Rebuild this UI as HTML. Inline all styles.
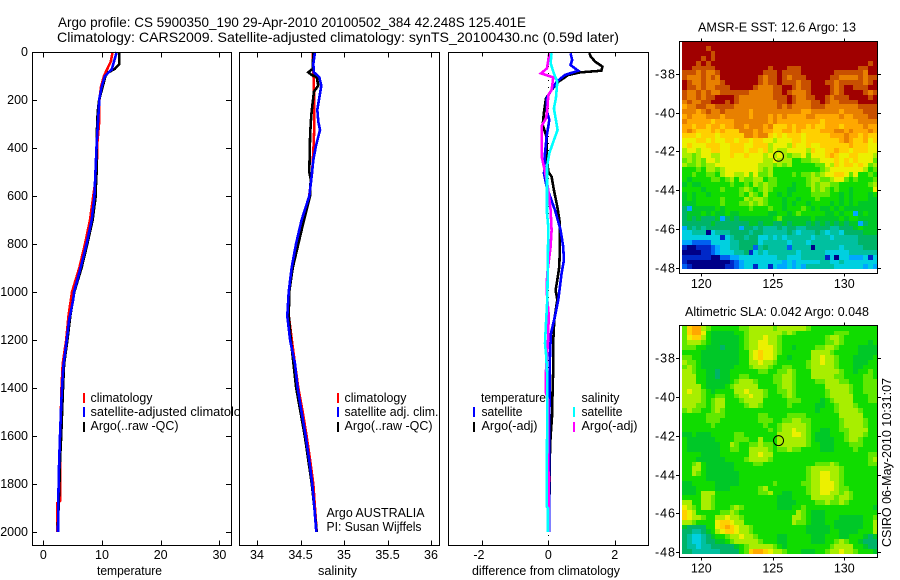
<!DOCTYPE html>
<html lang="en">
<head>
<meta charset="utf-8">
<title>Argo profile 5900350_190</title>
<style>
html,body{margin:0;padding:0;background:#fff;width:900px;height:580px;overflow:hidden}
svg{display:block}
text{font-family:"Liberation Sans",sans-serif;font-size:12.5px;fill:#000}
.title{font-size:14px}
</style>
</head>
<body>
<svg id="chart" xmlns="http://www.w3.org/2000/svg" width="900" height="580" viewBox="0 0 900 580">
<defs>
<clipPath id="temp-clip"><rect x="0" y="0" width="240" height="580"/></clipPath>
</defs>
<rect width="900" height="580" fill="#fff"/>
<g id="maps"></g>
<g id="marks"></g>
<g id="axes"></g>

<text class="title" x="58" y="27" textLength="468" lengthAdjust="spacingAndGlyphs">Argo profile: CS 5900350_190 29-Apr-2010 20100502_384 42.248S 125.401E</text>
<text class="title" x="57" y="42" textLength="562" lengthAdjust="spacingAndGlyphs">Climatology: CARS2009. Satellite-adjusted climatology: synTS_20100430.nc (0.59d later)</text>

<text x="97" y="575" textLength="65" lengthAdjust="spacingAndGlyphs">temperature</text>
<text x="318" y="575" textLength="39" lengthAdjust="spacingAndGlyphs">salinity</text>
<text x="472" y="575" textLength="148" lengthAdjust="spacingAndGlyphs">difference from climatology</text>

<g>
<rect x="83" y="393" width="2" height="10" fill="#f00"/>
<rect x="83" y="407" width="2" height="10" fill="#00f"/>
<rect x="83" y="422" width="2" height="10" fill="#000"/>
<text x="90.5" y="402" textLength="62" lengthAdjust="spacingAndGlyphs">climatology</text>
<g clip-path="url(#temp-clip)"><text x="90.5" y="416" textLength="164" lengthAdjust="spacingAndGlyphs">satellite-adjusted climatology</text></g>
<text x="90.5" y="430" textLength="88" lengthAdjust="spacingAndGlyphs">Argo(..raw -QC)</text>
</g>

<g>
<rect x="337" y="393" width="2" height="10" fill="#f00"/>
<rect x="337" y="407" width="2" height="10" fill="#00f"/>
<rect x="337" y="422" width="2" height="10" fill="#000"/>
<text x="344.5" y="402" textLength="62" lengthAdjust="spacingAndGlyphs">climatology</text>
<text x="344.5" y="416" textLength="94" lengthAdjust="spacingAndGlyphs">satellite adj. clim.</text>
<text x="344.5" y="430" textLength="88" lengthAdjust="spacingAndGlyphs">Argo(..raw -QC)</text>
<text x="326.5" y="517" textLength="98" lengthAdjust="spacingAndGlyphs">Argo AUSTRALIA</text>
<text x="326.5" y="531" textLength="95" lengthAdjust="spacingAndGlyphs">PI: Susan Wijffels</text>
</g>

<g>
<rect x="473" y="407" width="2" height="10" fill="#00f"/>
<rect x="473" y="422" width="2" height="10" fill="#000"/>
<rect x="573" y="407" width="2" height="10" fill="#0ff"/>
<rect x="573" y="422" width="2" height="10" fill="#f0f"/>
<text x="481" y="402" textLength="65" lengthAdjust="spacingAndGlyphs">temperature</text>
<text x="481.5" y="416" textLength="41" lengthAdjust="spacingAndGlyphs">satellite</text>
<text x="481.5" y="430" textLength="56" lengthAdjust="spacingAndGlyphs">Argo(-adj)</text>
<text x="581.5" y="402" textLength="38" lengthAdjust="spacingAndGlyphs">salinity</text>
<text x="581.5" y="416" textLength="41" lengthAdjust="spacingAndGlyphs">satellite</text>
<text x="581.5" y="430" textLength="56" lengthAdjust="spacingAndGlyphs">Argo(-adj)</text>
</g>

<text x="698" y="31.5" textLength="158" lengthAdjust="spacingAndGlyphs">AMSR-E SST: 12.6 Argo: 13</text>
<text x="685" y="316" textLength="184" lengthAdjust="spacingAndGlyphs">Altimetric SLA: 0.042 Argo: 0.048</text>
<text transform="translate(891,547) rotate(-90)" x="0" y="0" textLength="169" lengthAdjust="spacingAndGlyphs">CSIRO 06-May-2010 10:31:07</text>
</svg>

<script>
// ---- profile data: depth (m) and values ----
const depthTicks = [0,200,400,600,800,1000,1200,1400,1600,1800,2000];
const tempTicks = [0,10,20,30];
const salinityTicks = [34,34.5,35,35.5,36];
const salinityTickLabels = ['34','34.5','35','35.5','36'];
const diffTicks = [-2,0,2];
const lonTicks = [120,125,130];
const latTicks = [38,40,42,44,46,48];

const climTempDepth = [0,40,70,100,145,200,300,380,500,600,700,800,900,1000,1100,1200,1300,1400,1600,1800,1870,1880,2000];
const climTemp = [11.8,11.5,10.9,10.34,9.83,9.55,9.49,9.2,9.1,8.52,7.96,7.1,6.13,4.89,4.3,3.9,3.3,3.1,2.9,2.85,2.9,2.35,2.4];
const satTempDepth = [0,73,100,145,193,270,380,477,602,700,797,894,1000,1033,1117,1200,1311,1400,1460,1600,1728,1867,2000];
const satTemp = [12.5,11.65,10.5,9.95,9.55,9.37,9.1,8.92,8.7,8.24,7.4,6.4,5.23,5.1,4.4,3.98,3.41,3.19,3.07,2.85,2.67,2.56,2.5];
const argoTempDepth = [0,50,70,85,100,145,200,250,350,500,530,600,700,800,900,1000,1100,1200,1300,1400,1500,1600,1700,1800,2000];
const argoTemp = [12.95,12.95,12.2,11.07,10.6,10.1,9.5,9.26,9.1,9.1,9.0,8.92,8.4,7.5,6.5,5.28,4.6,4.1,3.55,3.35,3.2,3.05,2.85,2.75,2.45];

const climSalDepth = [0,100,200,300,400,500,600,700,800,900,1000,1100,1200,1300,1400,1500,1600,1700,1800,1900,2000];
const climSal = [34.64,34.65,34.66,34.66,34.65,34.635,34.6,34.525,34.455,34.405,34.37,34.365,34.4,34.437,34.475,34.525,34.57,34.61,34.647,34.667,34.686];
const satSalDepth = [0,50,85,105,140,190,240,290,325,390,450,520,600,700,800,900,1000,1100,1200,1300,1400,1500,1600,1700,1800,1900,2000];
const satSal = [34.667,34.647,34.655,34.716,34.739,34.716,34.693,34.705,34.724,34.678,34.647,34.628,34.601,34.513,34.448,34.398,34.364,34.348,34.38,34.437,34.467,34.513,34.56,34.6,34.636,34.66,34.682];
const argoSalDepth = [0,70,85,95,105,140,165,210,250,300,350,500,530,600,700,800,900,1000,1100,1200,1300,1400,1500,1600,1700,1800,1900,2000];
const argoSal = [34.647,34.64,34.59,34.628,34.686,34.705,34.655,34.64,34.628,34.617,34.61,34.601,34.617,34.61,34.54,34.475,34.41,34.37,34.365,34.39,34.42,34.45,34.5,34.55,34.59,34.63,34.66,34.686];

const diffSatTempDepth = [5,33,54,78,96,124,158,193,242,283,353,422,506,561,658,742,811,867,922,1033,1089,1172,1255,1547,1800,2000];
const diffSatTemp = [.67,.72,.67,.9,.5,.25,.1,-.05,-.05,.03,-.05,-.1,-.13,-.05,.2,.37,.45,.47,.4,.3,.22,.08,.05,.03,.02,.02];
const diffArgoTempDepth = [5,19,40,61,78,85,96,124,158,193,249,304,353,422,499,519,575,644,714,811,894,950,992,1033,1116,1200,1311,1408,1519,1602,1658,2000];
const diffArgoTemp = [1.235,1.28,1.41,1.63,1.6,.955,.6,.3,.1,-.07,-.13,-.17,-.05,-.05,0,.1,.17,.27,.35,.35,.33,.27,.22,.27,.18,.15,.15,.13,.11,.07,.05,.02];
const diffSatSalDepth = [5,47,89,124,193,235,276,325,367,422,478,575,672,728,1033,1130,1214,1255,1352,1464,1894,1901,2000];
const diffSatSal = [.1,.07,.17,.27,.23,.17,.22,.28,.17,.03,-.04,-.04,-.04,0,-.03,-.07,-.1,-.07,-.03,-.03,-.05,-.01,-.01];
const diffArgoSalDepth = [5,68,89,106,158,179,242,276,308,436,499,575,658,742,811,922,978,1033,1089,1186,1352,1422,1450,1741,1769,2000];
const diffArgoSal = [.03,-.04,-.22,.15,.1,0,-.03,-.07,-.2,-.2,-.1,0,.07,.1,.07,-.03,-.05,-.03,.01,0,-.08,-.07,0,0,.02,.01];

const floatLon = 125.401;
const floatLat = 42.248;

// ---- heatmap grids: one character per cell = colour-scale level ----
const sstRows = [
'gggggggggg gggggggggg gggggggggg gggggggggg g',
'gggggfgggg gggggggggg gggggggggg gggggggggg g',
'ggggggfggg gggggggggg gggggggggg gggggggggg g',
'ggggfgfggg gggggggggg gggggggggg gggggggggg g',
'gggfgfgggg gggggggggg gggggggggg gggggggggf g',
'ggfffffggg ggggggggfg ggfffggggg gggggggffg g',
'fffefeefgg gggggggfff gffffggggg ggffffffeg g',
'feeefefegg ggggggfeff gfefffgggg gffeeeefef f',
'gfeefeeefg ggggggfeff gfffeffggg ffefffffef g',
'gffefeefff gggggfeeef fggfeffggg gfefggfffg g',
'feefefeeff ffffeeeeef fgfeeefggg gfefggggfe f',
'feefeffggg gfeeeeeeef ffgfeeffgg fefffggggf g',
'efeeffgggf gfeeeeeeee ffgfeeeffg feeffffggg g',
'deeffeefff feeeeeeeee fefeeeefff eeeeeeefff f',
'eeedefeefe eeeedeeeee eeeeeddeee eeedeeeeff f',
'dedddeeede eeeedeeede deddddeedd dddeddeeef f',
'edddddcddd deeeeeeede dddddddddc dddddddeee e',
'ddcddcddcd deedeeedec ccdcddcdcc dddcdddded d',
'dedcccdcdc cceeededdc cddcdccccd ddeededdde d',
'cccbcccbcc ccceedeecb cbcccbcccc cdddeddcdc c',
'bbbccbcbbc cbccbccbba bbbccbcccc cccdedccdb c',
'bcbbbcccbb cccbbcccab bbacbbcbbc cccccdcccb b',
'abbabbccbb cccbccbcab aabbbbacbb ccdccbcccb b',
'aa9abbaabb cbbcbbbaba ba9aab9bbb cdcbbccbbb a',
'9a9a9bbabb bbbbbbbaab aaa8899aab bbcbcbcbbb 9',
'a99a9aabbb bbbbbbaaa9 a9a8888899 bacbccbcb9 a',
'88898aa9ab bbbbbba9a8 8888888889 abbbbbbba8 9',
'88988998ab baab9b99a8 8889899a9a bbccb9b889 8',
'8788889989 a8a99aa899 8888889aa9 9abb989888 9',
'7877888888 98898a9a99 8887889a9a a998888889 a',
'8888788898 889a989a98 8877888a9a 9898878888 b',
'7878878888 8898a98a88 7878888999 9887878887 8',
'7878888898 888a9aa988 8788788898 8887878887 7',
'7778888898 8899a9a988 8787887888 8787878777 7',
'6377777878 8888988898 8788898787 7878777777 7',
'6777878778 7788888877 8878988888 7787883787 7',
'6767666736 7677777778 9777777877 7778788777 7',
'6666667666 6666776776 6767776767 6767677367 7',
'3656566666 6636656555 6566556666 6556667877 7',
'4455504555 6666566555 5565455565 4554666677 7',
'4444444414 5665664454 5455555455 5455555666 6',
'3322224444 5566664555 5545554555 5555555666 6',
'1001112344 5566625655 5525555055 5554555566 6',
'0000112344 4556145455 5555455555 4444455555 5',
'1111110022 3344444444 5544455555 1404433341 4',
'1000000000 1234444444 4343444445 5445444444 4',
'2100000001 1234414414 3343435555 5544444434 3'
];
const slaRows = [
'9cdda98888 8899aaaaa9 aaaaaa9888 8888888888 8',
'9cddb87777 7889aaaaaa a9a9888888 8899988888 8',
'9bcca87777 7789aaabaa 9888888888 9aa9888888 8',
'9aaa987777 7789aabbaa 9888888888 99a9888887 8',
'9998877767 7789aabbba 9887888899 aa98888777 7',
'8888777777 7788abcbba 9888888aaa a988888777 7',
'9988777777 7788abcbba 8878888aab aa98887777 8',
'a998777777 7788aabaa9 8888889aab aa98887778 8',
'9a98777777 78889aaa98 8998889aaa aa98887788 8',
'aa98877677 8888889988 99a9888aaa aaa9887889 8',
'aaa8877677 8899888889 9aa9888aaa aa99888899 8',
'aaa8877777 89aaa98889 9aa9888899 aaa9988899 9',
'aaaa877778 9aaaaa8888 9aa9888888 aaaaa98899 9',
'abaa987888 8aabaaa988 99a9888888 9aaaa98899 9',
'aaaa988998 89aabaa988 89a9888888 9aaaaa8889 9',
'aaaa989aa8 889aaaa888 8899988887 89aaaa8889 9',
'aaa9989aa8 8889aa9888 8898888877 889aaa9888 8',
'9a99889a98 8888888888 8888888878 889aaaa988 8',
'8888899998 8888889988 8899998888 888aaaaa88 8',
'8888899988 8888889998 899aa99888 8889aaaa98 8',
'8888889888 8888888988 9aaaaa9888 8889aaaa98 8',
'8888888888 8888888898 9aabaa9887 78899aaaa8 8',
'7787778888 8998888888 aaabba9877 78889aaa98 8',
'8777777888 899988a888 aaaaaa9877 77889aa988 8',
'8777777788 a98899a998 aaaaaa9887 7788899988 8',
'8777777788 9988aaaa98 99a9988887 7788889888 8',
'8888777788 8888aabaa8 8888888888 8888888889 9',
'8887777778 8889aaaa98 8888888888 8888888889 a',
'889a877777 7888899888 8888888899 9a98888889 9',
'88aa877777 7888888888 8888889aaa aaa9888888 8',
'88a9877777 7788888888 8888889aab baa9888888 8',
'8888877777 7788888888 8888889aab baa9888888 8',
'7788888777 7788888889 8888899aab bba9888888 8',
'7778888777 8888889a88 8888889aab bba9988888 8',
'7778aaa888 88888899a8 8778889aab baa9a98888 8',
'8888aa9888 8888888888 7778888aaa aa9aa98888 8',
'aa88aa9888 8888888888 7777888899 a99a988888 8',
'ba98aa9888 9a98888888 7778898888 8888888888 7',
'cba8888899 a988888888 8888a98777 8888888888 8',
'cbaa988aab aa98888888 888aa98777 8887777788 9',
'aa98888bcc baa8888888 888a998777 8877777788 a',
'7666688bcd cbaa988888 8888887777 7877777788 a',
'6655678abc cbaa988888 8888887777 7887777888 a',
'6544567889 aabaa98888 7788888777 8887788876 7',
'6544566778 9aaaaa9888 7788888777 889a988766 6',
'6554556666 6789aaaaa9 8788888888 89aaaa8876 6',
'6655555566 6689cddcba a988877788 9aabaa9888 7'
];
const levelCodes = '0123456789abcdefg';
const levelColors = ['#000088','#0028c8','#0060f0','#00a8ff','#00d0e0','#00c0a0','#00b468','#00c828','#10dc00','#60e800','#a8ee00','#ecf000','#ffd000','#ffa800','#e88000','#c85000','#a00000'];

// ---- helpers ----
const NS = 'http://www.w3.org/2000/svg';
const marks = document.getElementById('marks');
const axes = document.getElementById('axes');
const maps = document.getElementById('maps');

function make(tag, attrs, parent) {
  const n = document.createElementNS(NS, tag);
  for (const k in attrs) n.setAttribute(k, attrs[k]);
  parent.appendChild(n);
  return n;
}

// axis functions
const yDepth = d => 52 + d * 0.24;
const xTemp = t => 43.3 + t * 5.87;
const xSal = s => 257 + (s - 34) * 87;
const xDiff = v => 548.3 + v * 33.2;
const xLon = lon => 701.3 + (lon - 120) * 14.3;
const ySstLat = lat => 74 + (lat - 38) * 19.37;
const ySlaLat = lat => 358.3 + (lat - 38) * 19.37;

function drawLine(name, xs, ds, xf, color) {
  const pts = xs.map((v, i) => xf(v).toFixed(1) + ',' + yDepth(ds[i]).toFixed(1)).join(' ');
  const line = make('polyline', {points: pts, fill: 'none', stroke: color, 'stroke-width': 2.6, 'shape-rendering': 'crispEdges'}, marks);
  
  
}

function drawFrame(name, x, y, w, h) {
  const r = make('rect', {x: x, y: y, width: w, height: h, fill: 'none', stroke: '#000', 'stroke-width': 1, 'shape-rendering': 'crispEdges'}, axes);
  
  
}

function drawTick(x1, y1, x2, y2) {
  const t = make('line', {x1: x1, y1: y1, x2: x2, y2: y2, stroke: '#000', 'stroke-width': 1, 'shape-rendering': 'crispEdges'}, axes);
  
  
}

function drawLabel(str, x, y, anchor) {
  const t = make('text', {x: x, y: y, 'text-anchor': anchor}, axes);
  t.textContent = str;
  
  
  return t;
}

function drawHeat(name, rows, left, right, top, bottom) {
  const grid = rows.map(r => r.replace(/ /g, ''));
  const cols = 41;
  const cw = (right - left) / cols;
  const ch = (bottom - top) / grid.length;
  grid.forEach((row, j) => {
    for (let i = 0; i < cols; i++) {
      const color = levelColors[Math.max(0, levelCodes.indexOf(row[Math.min(i, row.length - 1)]))];
      const x0 = Math.round(left + i * cw);
      const x1 = Math.round(left + (i + 1) * cw);
      const y0 = Math.round(top + j * ch);
      const y1 = Math.round(top + (j + 1) * ch);
      const c = make('rect', {x: x0, y: y0, width: x1 - x0, height: y1 - y0, fill: color}, maps);
      
      
    }
  });
}

// ---- heatmaps ----
drawHeat('sst-cell', sstRows, 682, 877.3, 41.3, 269.3);
drawHeat('sla-cell', slaRows, 682, 877.3, 325.7, 553.7);

// ---- zero line of difference panel ----
const zero = make('line', {x1: xDiff(0), x2: xDiff(0), y1: yDepth(0), y2: 545, stroke: '#000', 'stroke-width': 1, 'stroke-dasharray': '1 6', 'shape-rendering': 'crispEdges'}, marks);



// ---- profile lines ----
drawLine('temperature-climatology-line', climTemp, climTempDepth, xTemp, '#f00');
drawLine('temperature-argo-line', argoTemp, argoTempDepth, xTemp, '#000');
drawLine('temperature-satellite-line', satTemp, satTempDepth, xTemp, '#00f');

drawLine('salinity-climatology-line', climSal, climSalDepth, xSal, '#f00');
drawLine('salinity-argo-line', argoSal, argoSalDepth, xSal, '#000');
drawLine('salinity-satellite-line', satSal, satSalDepth, xSal, '#00f');

drawLine('difference-temperature-argo-line', diffArgoTemp, diffArgoTempDepth, xDiff, '#000');
drawLine('difference-temperature-satellite-line', diffSatTemp, diffSatTempDepth, xDiff, '#00f');
drawLine('difference-salinity-argo-line', diffArgoSal, diffArgoSalDepth, xDiff, '#f0f');
drawLine('difference-salinity-satellite-line', diffSatSal, diffSatSalDepth, xDiff, '#0ff');

// ---- line-panel frames, ticks, labels ----
const plotTop = 52.5, plotBottom = 545.5;
drawFrame('temperature-panel-frame', 32.5, plotTop, 199, plotBottom - plotTop);
drawFrame('salinity-panel-frame', 239.5, plotTop, 200, plotBottom - plotTop);
drawFrame('difference-panel-frame', 448.5, plotTop, 200, plotBottom - plotTop);

depthTicks.forEach(d => {
  const y = Math.round(yDepth(d)) + 0.5;
  drawTick(32, y, 37, y);
  drawTick(226, y, 231, y);
  drawLabel(String(d), 28, Math.round(yDepth(d)) + 4, 'end');
});
tempTicks.forEach(t => {
  const x = Math.round(xTemp(t)) + 0.5;
  drawTick(x, plotTop, x, plotTop + 5);
  drawTick(x, plotBottom - 5, x, plotBottom);
  drawLabel(String(t), xTemp(t), 559, 'middle');
});
salinityTicks.forEach((s, i) => {
  const x = Math.round(xSal(s)) + 0.5;
  drawTick(x, plotTop, x, plotTop + 5);
  drawTick(x, plotBottom - 5, x, plotBottom);
  drawLabel(salinityTickLabels[i], xSal(s), 559, 'middle');
});
diffTicks.forEach(v => {
  const x = Math.round(xDiff(v)) + 0.5;
  drawTick(x, plotTop, x, plotTop + 4);
  drawTick(x, plotBottom - 5, x, plotBottom);
  drawLabel(String(v), xDiff(v) - (v < 0 ? 3 : 0), 559, 'middle');
});

// ---- map frames, ticks, labels, float marker ----
function drawMapAxes(name, top, bottom, latFn, labelY) {
  drawFrame(name + '-frame', 679.5, top, 198, bottom - top);
  lonTicks.forEach(lon => {
    const x = Math.round(xLon(lon)) + 0.5;
    drawTick(x, top - 3, x, top);
    drawTick(x, bottom, x, bottom + 3);
    drawLabel(String(lon), xLon(lon), labelY, 'middle');
  });
  latTicks.forEach(lat => {
    const y = Math.round(latFn(lat)) + 0.5;
    drawTick(676, y, 679.5, y);
    drawTick(877.5, y, 881, y);
    const lab = drawLabel('-' + lat, 655, Math.round(latFn(lat)) + 4.5, 'start');
    lab.setAttribute('textLength', '20');
    lab.setAttribute('lengthAdjust', 'spacing');
  });
  const m = make('circle', {cx: xLon(floatLon), cy: latFn(floatLat), r: 5, fill: 'none', stroke: '#000', 'stroke-width': 1}, axes);
  
  
}
drawMapAxes('sst-map', 41.5, 273.5, ySstLat, 288);
drawMapAxes('sla-map', 325.5, 557.5, ySlaLat, 572.5);
</script>
</body>
</html>
